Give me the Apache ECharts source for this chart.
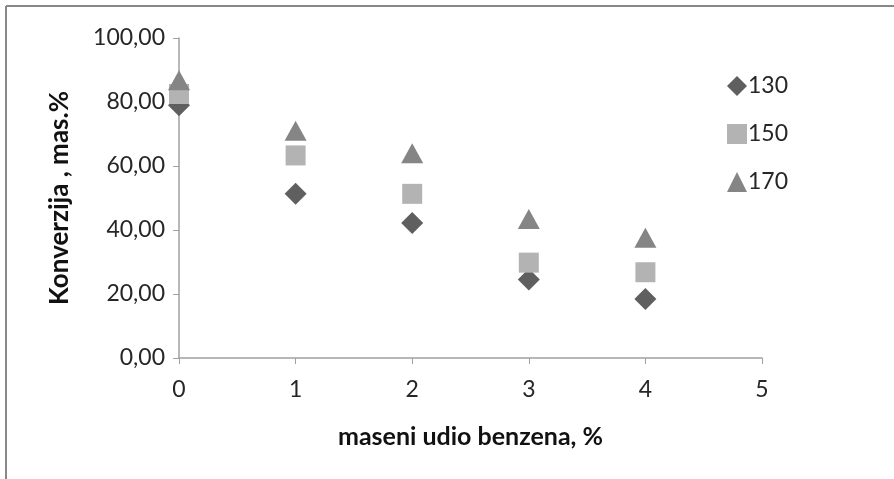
<!DOCTYPE html>
<html><head><meta charset="utf-8">
<script src="https://cdn.jsdelivr.net/npm/echarts@6/dist/echarts.min.js"></script>
<style>html,body{margin:0;padding:0;background:#fff}#c{width:894px;height:479px}</style>
</head><body><div id="c"></div>
<script>
const xValues = [0, 1, 2, 3, 4];
const s130 = [79.0, 51.3, 42.2, 24.5, 18.4];
const s150 = [82.5, 63.3, 51.3, 29.8, 26.8];
const s170 = [86.8, 71.0, 64.0, 43.4, 37.6];
const seriesNames = ['130', '150', '170'];
const xTicks = [0, 1, 2, 3, 4, 5];
const yTicks = [0, 20, 40, 60, 80, 100];

const pair = arr => xValues.map((x, i) => [x, arr[i]]);
const font = 'Lato, "Open Sans", sans-serif';
const chart = echarts.init(document.getElementById('c'), null, {renderer: 'canvas'});
chart.setOption({
  animation: false,
  backgroundColor: '#fff',
  textStyle: {fontFamily: font},
  grid: {left: 179, right: 132, top: 38, bottom: 121},
  legend: {
    orient: 'vertical', left: 722, top: 69, itemGap: 24,
    itemWidth: 20, itemHeight: 20,
    textStyle: {fontSize: 23, lineHeight: 24, color: '#262626', fontFamily: font, padding: [0, 0, 0, -4]},
    data: seriesNames
  },
  graphic: [
    {type: 'line', shape: {x1: 6, y1: 479, x2: 6, y2: 6}, style: {stroke: '#888', lineWidth: 2}},
    {type: 'line', shape: {x1: 6, y1: 6, x2: 894, y2: 6}, style: {stroke: '#888', lineWidth: 2}}
  ],
  xAxis: {
    type: 'value', min: 0, max: 5, interval: 1,
    name: 'maseni udio benzena, %', nameLocation: 'middle', nameGap: 66,
    nameTextStyle: {fontSize: 25, fontWeight: 'bold', color: '#111', fontFamily: font},
    axisLine: {show: true, lineStyle: {color: '#a0a0a0', width: 1.5}},
    axisTick: {show: true, length: 6, lineStyle: {color: '#a0a0a0'}},
    axisLabel: {fontSize: 23, color: '#262626', margin: 20, formatter: v => xTicks.includes(v) ? String(v) : ''},
    splitLine: {show: false}
  },
  yAxis: {
    type: 'value', min: 0, max: 100, interval: 20,
    name: 'Konverzija , mas.%', nameLocation: 'middle', nameGap: 106, nameRotate: 90,
    nameTextStyle: {fontSize: 26, fontWeight: 'bold', color: '#111', fontFamily: font},
    axisLine: {show: true, lineStyle: {color: '#a0a0a0', width: 1.5}},
    axisTick: {show: true, length: 6, lineStyle: {color: '#a0a0a0'}},
    axisLabel: {fontSize: 23, color: '#262626', margin: 14, formatter: v => yTicks.includes(v) ? v.toFixed(2).replace('.', ',') : ''},
    splitLine: {show: false}
  },
  series: [
    {name: seriesNames[0], type: 'scatter', symbol: 'diamond', symbolSize: [22, 22], data: pair(s130), itemStyle: {color: '#5f5f5f', opacity: 1}, z: 2},
    {name: seriesNames[1], type: 'scatter', symbol: 'rect', symbolSize: [20, 20], data: pair(s150), itemStyle: {color: '#b3b3b3', opacity: 1}, z: 3},
    {name: seriesNames[2], type: 'scatter', symbol: 'triangle', symbolSize: [22, 20], data: pair(s170), itemStyle: {color: '#858585', opacity: 1}, z: 4}
  ]
});
</script></body></html>
